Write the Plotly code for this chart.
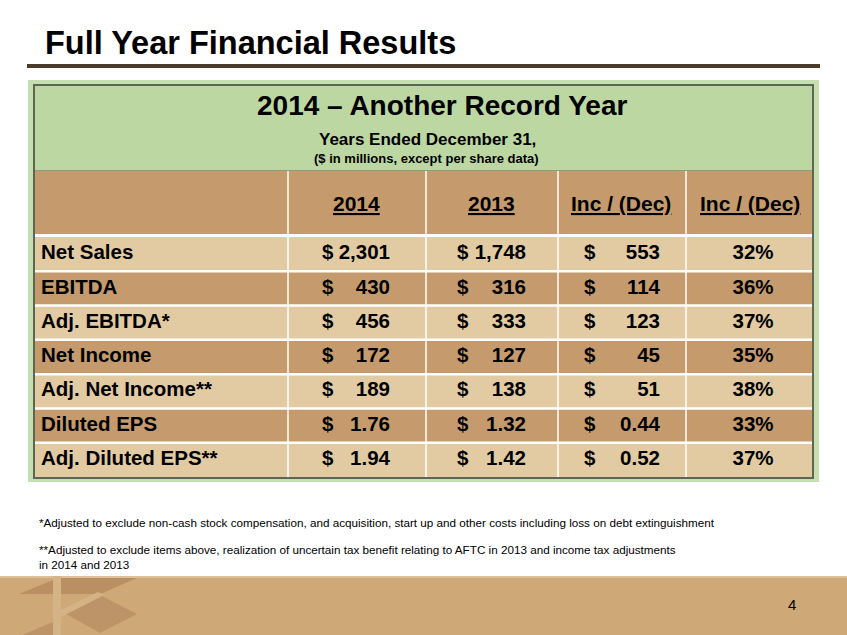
import plotly.graph_objects as go

# table data ($ in millions, except per share data)
labels = ["Net Sales", "EBITDA", "Adj. EBITDA*", "Net Income",
          "Adj. Net Income**", "Diluted EPS", "Adj. Diluted EPS**"]
fy2014 = [2301, 430, 456, 172, 189, 1.76, 1.94]
fy2013 = [1748, 316, 333, 127, 138, 1.32, 1.42]
inc_dec = [553, 114, 123, 45, 51, 0.44, 0.52]
pct_change = [32, 36, 37, 35, 38, 33, 37]
col_heads = ["2014", "2013", "Inc / (Dec)", "Inc / (Dec)"]

notes = [
    "*Adjusted to exclude non-cash stock compensation, and acquisition, start up and other costs including loss on debt extinguishment",
    "**Adjusted to exclude items above, realization of uncertain tax benefit relating to AFTC in 2013 and income tax adjustments<br>in 2014 and 2013",
]

W, H = 847, 635
FONT = "Liberation Sans, Arial, sans-serif"
GREEN = "#bdd7a3"
LIGHT = "#e2cba3"
DARK = "#c59b6e"
CELL_SIZE = 20.5


def fmt(v):
    if v < 10:
        return f"{v:.2f}"
    return f"{v:,.0f}"


def px(x):
    return x / W


def py(y):
    return 1 - y / H


def rect(x0, y0, x1, y1, fill, line=None, lw=0):
    return dict(type="rect", xref="paper", yref="paper",
                x0=px(x0), x1=px(x1), y0=py(y1), y1=py(y0),
                fillcolor=fill, line=dict(color=line or fill, width=lw),
                layer="below")


def path(pts, fill):
    d = "M " + " L ".join(f"{px(a)},{py(b)}" for a, b in pts) + " Z"
    return dict(type="path", xref="paper", yref="paper", path=d,
                fillcolor=fill, line=dict(width=0), layer="below")


def note(x, y, text, size, bold=True, anchor="center"):
    return dict(x=px(x), y=py(y), xref="paper", yref="paper", text=text,
                showarrow=False, xanchor=anchor, yanchor="middle", align="left",
                font=dict(family=FONT, size=size, color="black",
                          weight="bold" if bold else "normal"))


rows = list(range(len(labels)))
cell_font = dict(family=FONT, size=CELL_SIZE, color="black", weight="bold")
fig = go.Figure()

# row labels
fig.add_trace(go.Scatter(x=[41] * len(rows), y=rows, mode="text", text=labels,
                         textposition="middle right", textfont=cell_font,
                         hoverinfo="skip"))

# "$" signs and right aligned numbers
for dollar_x, num_x, vals in [(322, 390, fy2014), (457, 526, fy2013), (584, 660, inc_dec)]:
    fig.add_trace(go.Scatter(x=[dollar_x] * len(rows), y=rows, mode="text",
                             text=["$"] * len(rows), textposition="middle right",
                             textfont=cell_font, hoverinfo="skip"))
    fig.add_trace(go.Scatter(x=[num_x] * len(rows), y=rows, mode="text",
                             text=[fmt(v) for v in vals], textposition="middle left",
                             textfont=cell_font, hoverinfo="skip"))

fig.add_trace(go.Scatter(x=[753] * len(rows), y=rows, mode="text",
                         text=[f"{v}%" for v in pct_change], textposition="middle center",
                         textfont=cell_font, hoverinfo="skip"))

shapes = []
# brown rule under the title
shapes.append(rect(27, 64, 820, 68, "#4b3b2b"))
# green frame of the table
shapes.append(rect(28, 80, 819, 482, "#c6dfb0"))
shapes.append(rect(33, 84, 814, 479, "#5c6653"))
shapes.append(rect(35, 86, 812, 477, GREEN))
# header band
shapes.append(rect(35, 170, 812, 171, "#8f9c80"))
shapes.append(rect(35, 171, 812, 237, DARK))
# data rows
for i in rows:
    shapes.append(dict(type="rect", xref="paper", yref="y",
                       x0=px(35), x1=px(812), y0=i - 0.5, y1=i + 0.5,
                       fillcolor=LIGHT if i % 2 == 0 else DARK,
                       line=dict(width=0), layer="below"))
for i in rows[:-1]:
    shapes.append(dict(type="line", xref="paper", yref="y",
                       x0=px(35), x1=px(812), y0=i + 0.5, y1=i + 0.5,
                       line=dict(color="white", width=2.5), layer="below"))
shapes.append(rect(35, 234, 812, 237, "white"))
# column dividers
for x in [288, 426, 558, 686]:
    shapes.append(dict(type="line", xref="paper", yref="paper",
                       x0=px(x), x1=px(x), y0=py(171), y1=py(477),
                       line=dict(color="white", width=1.5), layer="below"))
# footer band and logo
shapes.append(rect(0, 576, W, H, "#cfa878"))
shapes.append(rect(0, 576, W, 578, "#ddc09a"))
shapes.append(path([(19, 594), (58, 578), (137, 578), (100, 594)], "#b98f63"))
shapes.append(path([(66, 614), (100, 595), (137, 614), (100, 633)], "#bd9468"))
shapes.append(path([(22, 635), (58, 620), (58, 635)], "#bd9468"))
shapes.append(rect(53, 576, 61, 635, "#d6b386"))
shapes.append(path([(61, 610), (98, 592), (104, 595), (61, 617)], "#d6b386"))

annotations = [
    note(43, 43, "Full Year Financial Results", 32.5, anchor="left"),
    note(442, 105, "2014 – Another Record Year", 28),
    note(427, 139, "Years Ended December 31,", 17),
    note(426, 158, "($ in millions, except per share data)", 13),
    note(792, 604, "4", 15, bold=False),
    note(37, 522, notes[0], 11.7, bold=False, anchor="left"),
    note(37, 557, notes[1], 11.7, bold=False, anchor="left"),
]
for cx, head in zip([356, 491, 621, 750], col_heads):
    annotations.append(note(cx, 203, f"<u>{head}</u>", 21))

fig.update_layout(
    width=W, height=H,
    margin=dict(l=0, r=0, t=0, b=0),
    paper_bgcolor="white", plot_bgcolor="rgba(0,0,0,0)",
    showlegend=False,
    xaxis=dict(range=[0, W], domain=[0, 1], visible=False, fixedrange=True),
    yaxis=dict(range=[6.5, -0.5], domain=[py(477), py(237)], visible=False, fixedrange=True),
    shapes=shapes,
    annotations=annotations,
)

fig.write_html("out.html", config={"displayModeBar": False},
               post_script="document.body.style.margin='0';")
